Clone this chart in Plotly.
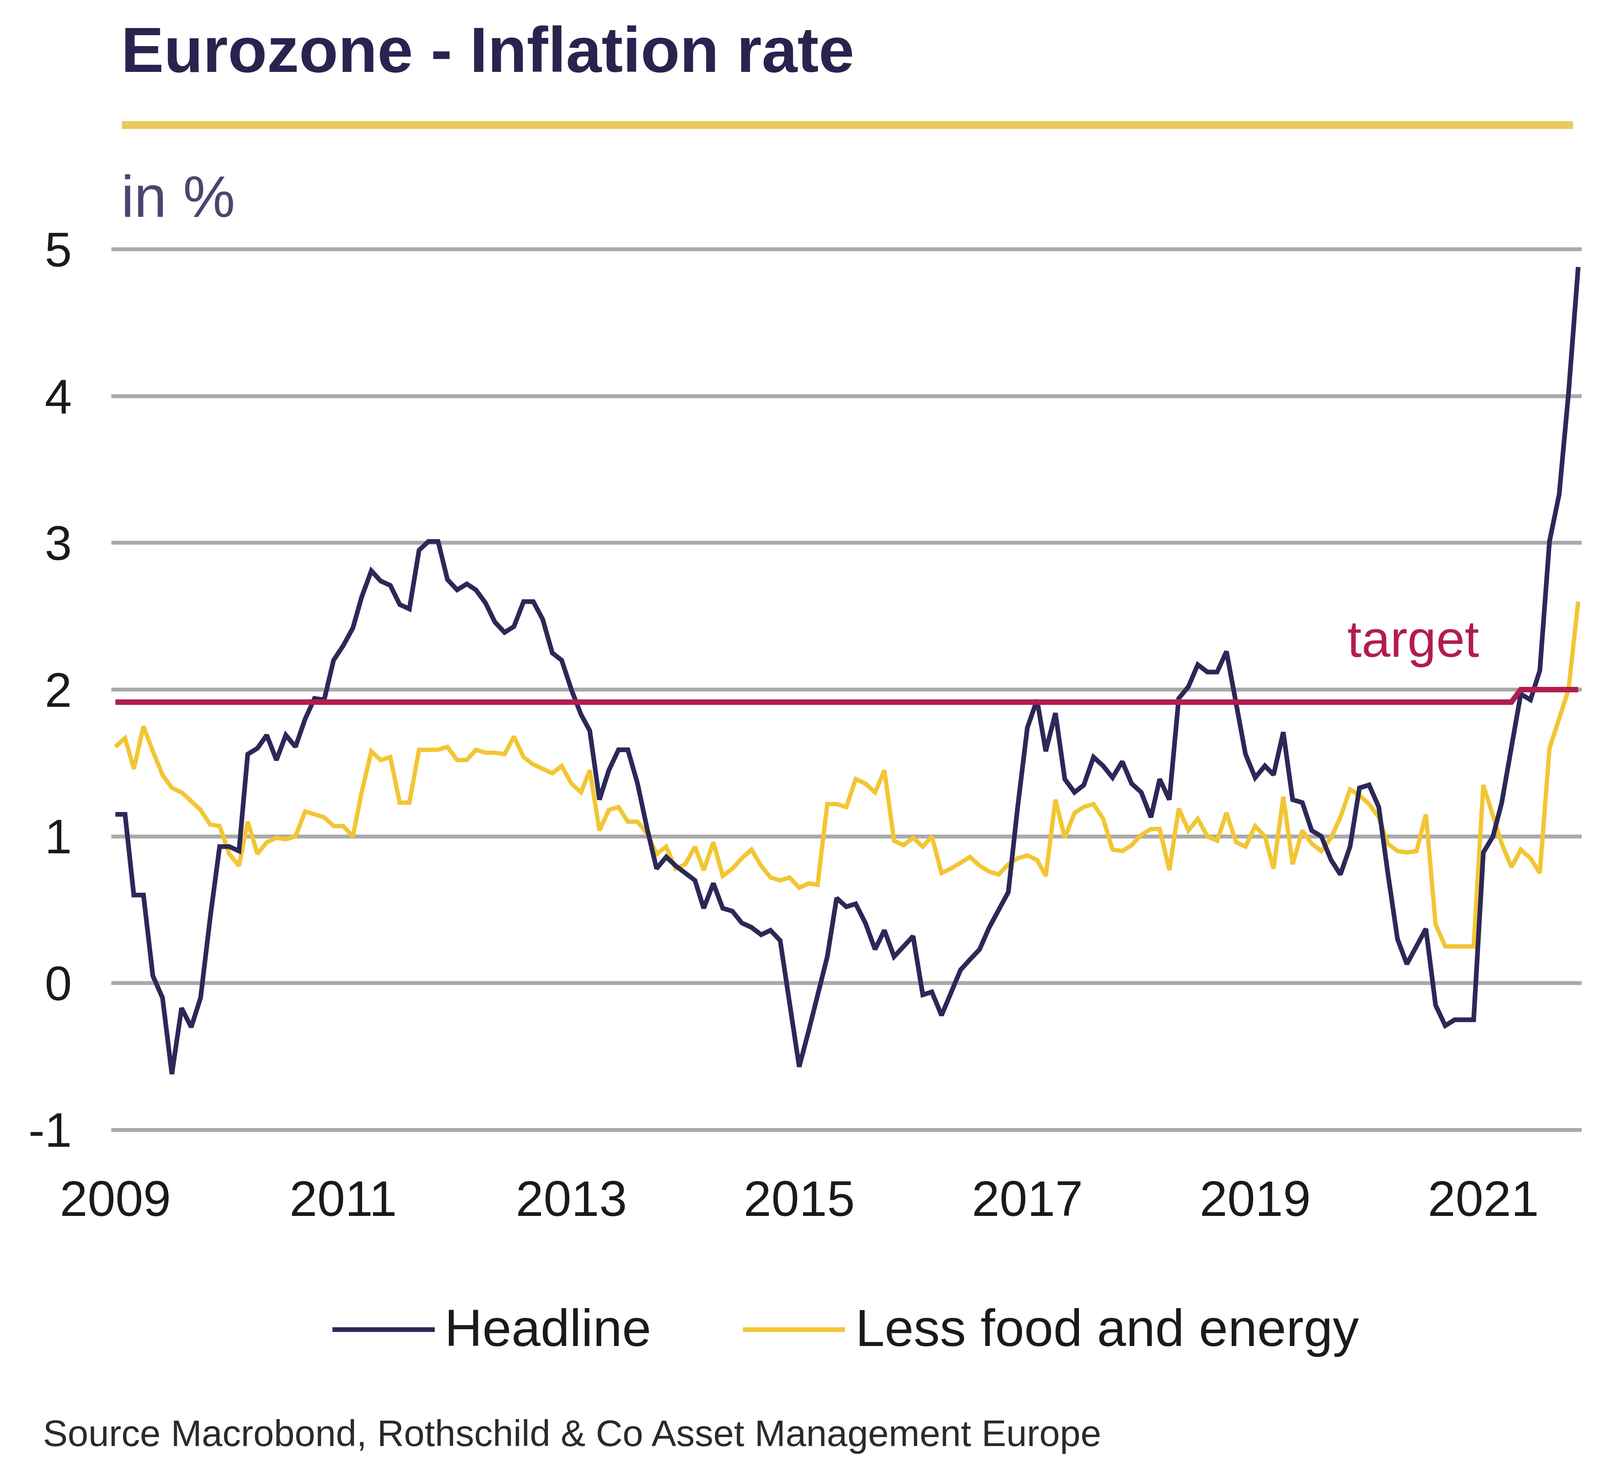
import plotly.graph_objects as go
import pandas as pd

# ---------------- data ----------------
months = pd.date_range("2009-01-01", "2021-11-01", freq="MS")

headline_2009 = [1.15, 1.15, 0.60, 0.60, 0.05, -0.10, -0.62, -0.17, -0.30, -0.10, 0.45, 0.93]
headline_2010 = [0.93, 0.90, 1.56, 1.60, 1.69, 1.52, 1.69, 1.61, 1.80, 1.94, 1.93, 2.20]
headline_2011 = [2.30, 2.42, 2.63, 2.81, 2.74, 2.71, 2.58, 2.55, 2.95, 3.01, 3.01, 2.75]
headline_2012 = [2.68, 2.72, 2.68, 2.59, 2.46, 2.39, 2.43, 2.60, 2.60, 2.48, 2.25, 2.20]
headline_2013 = [2.00, 1.83, 1.72, 1.25, 1.45, 1.59, 1.59, 1.36, 1.05, 0.78, 0.86, 0.80]
headline_2014 = [0.75, 0.70, 0.51, 0.68, 0.51, 0.49, 0.41, 0.38, 0.33, 0.36, 0.29, -0.12]
headline_2015 = [-0.57, -0.32, -0.07, 0.18, 0.58, 0.52, 0.54, 0.41, 0.23, 0.36, 0.18, 0.25]
headline_2016 = [0.32, -0.08, -0.06, -0.22, -0.07, 0.09, 0.16, 0.23, 0.38, 0.50, 0.62, 1.20]
headline_2017 = [1.74, 1.93, 1.58, 1.84, 1.39, 1.30, 1.35, 1.54, 1.48, 1.40, 1.51, 1.36]
headline_2018 = [1.30, 1.13, 1.39, 1.25, 1.94, 2.02, 2.17, 2.12, 2.12, 2.26, 1.90, 1.56]
headline_2019 = [1.40, 1.48, 1.42, 1.71, 1.25, 1.23, 1.04, 1.00, 0.84, 0.74, 0.93, 1.33]
headline_2020 = [1.35, 1.20, 0.75, 0.30, 0.13, 0.25, 0.37, -0.15, -0.29, -0.25, -0.25, -0.25]
headline_2021 = [0.89, 1.00, 1.23, 1.61, 1.97, 1.93, 2.13, 3.01, 3.33, 4.02, 4.88]

core_2009 = [1.61, 1.67, 1.46, 1.75, 1.58, 1.42, 1.33, 1.30, 1.24, 1.18, 1.08, 1.07]
core_2010 = [0.88, 0.80, 1.10, 0.88, 0.96, 0.99, 0.98, 1.00, 1.17, 1.15, 1.13, 1.07]
core_2011 = [1.07, 1.00, 1.30, 1.58, 1.52, 1.54, 1.23, 1.23, 1.59, 1.59, 1.59, 1.61]
core_2012 = [1.52, 1.52, 1.59, 1.57, 1.57, 1.56, 1.68, 1.54, 1.49, 1.46, 1.43, 1.48]
core_2013 = [1.36, 1.30, 1.45, 1.04, 1.18, 1.20, 1.10, 1.10, 1.02, 0.88, 0.93, 0.78]
core_2014 = [0.81, 0.93, 0.77, 0.96, 0.73, 0.78, 0.85, 0.91, 0.80, 0.72, 0.70, 0.72]
core_2015 = [0.65, 0.68, 0.67, 1.22, 1.22, 1.20, 1.39, 1.36, 1.30, 1.45, 0.97, 0.94]
core_2016 = [0.99, 0.93, 1.00, 0.75, 0.78, 0.82, 0.86, 0.80, 0.76, 0.74, 0.81, 0.85]
core_2017 = [0.87, 0.84, 0.73, 1.25, 0.99, 1.16, 1.20, 1.22, 1.12, 0.91, 0.90, 0.94]
core_2018 = [1.01, 1.05, 1.05, 0.77, 1.19, 1.04, 1.12, 1.00, 0.97, 1.16, 0.96, 0.93]
core_2019 = [1.07, 1.00, 0.78, 1.27, 0.81, 1.04, 0.95, 0.90, 0.99, 1.13, 1.32, 1.28]
core_2020 = [1.22, 1.13, 0.95, 0.90, 0.89, 0.90, 1.15, 0.40, 0.25, 0.25, 0.25, 0.25]
core_2021 = [1.35, 1.15, 0.95, 0.79, 0.91, 0.85, 0.75, 1.60, 1.80, 2.00, 2.60]

headline = (headline_2009 + headline_2010 + headline_2011 + headline_2012 + headline_2013
            + headline_2014 + headline_2015 + headline_2016 + headline_2017 + headline_2018
            + headline_2019 + headline_2020 + headline_2021)
core = (core_2009 + core_2010 + core_2011 + core_2012 + core_2013 + core_2014 + core_2015
        + core_2016 + core_2017 + core_2018 + core_2019 + core_2020 + core_2021)

target_dates = ["2009-01-01", "2021-04-01", "2021-05-01", "2021-11-01"]
target_values = [1.915, 1.915, 2.00, 2.00]

y_ticks = [-1, 0, 1, 2, 3, 4, 5]
x_tick_years = ["2009", "2011", "2013", "2015", "2017", "2019", "2021"]

# ---------------- styling ----------------
NAVY = "#2c2858"
GOLD = "#f2c633"
GOLD_RULE = "#e8ca5e"
CRIMSON = "#b01d4e"
GRID = "#aaaaaa"
FONT = "Liberation Sans, Arial, sans-serif"

W, H = 4224, 3770
ML, MR, MT, MB = 277, 183, 619, 875
PW, PH = W - ML - MR, H - MT - MB


def px_x(px):
    return (px - ML) / PW


def px_y(py):
    return (H - MB - py) / PH


fig = go.Figure()
fig.add_trace(go.Scatter(x=months, y=core, mode="lines", name="Less food and energy",
                         line=dict(color=GOLD, width=11), showlegend=False))
fig.add_trace(go.Scatter(x=months, y=headline, mode="lines", name="Headline",
                         line=dict(color=NAVY, width=12), showlegend=False))
fig.add_trace(go.Scatter(x=target_dates, y=target_values, mode="lines", name="target",
                         line=dict(color=CRIMSON, width=14), showlegend=False))

fig.update_layout(
    width=W, height=H,
    margin=dict(l=ML, r=MR, t=MT, b=MB, pad=0),
    paper_bgcolor="white", plot_bgcolor="white",
    font=dict(family=FONT, color="#1a1a1a"),
    showlegend=False,
)
fig.update_xaxes(
    type="date", range=["2008-12-19", "2021-11-12"],
    tickvals=[y + "-01-01" for y in x_tick_years], ticktext=x_tick_years,
    showgrid=False, zeroline=False, showline=False, ticks="",
    tickfont=dict(size=128, color="#1a1a1a"), ticklabelstandoff=80,
)
fig.update_yaxes(
    range=[-1.03, 5.03], tickvals=y_ticks, ticktext=[str(v) for v in y_ticks],
    showgrid=True, gridcolor=GRID, gridwidth=10, zeroline=False, showline=False, ticks="",
    tickfont=dict(size=125, color="#1a1a1a"), ticklabelstandoff=100,
)

annotations = [
    dict(text="<b>Eurozone - Inflation rate</b>", x=px_x(300), y=px_y(120), xanchor="left",
         yanchor="middle", font=dict(size=164, color="#29234f")),
    dict(text="in %", x=px_x(300), y=px_y(495), xanchor="left", yanchor="middle",
         font=dict(size=150, color="#4b4570")),
    dict(text="target", x=px_x(3610), y=px_y(1627), xanchor="center", yanchor="middle",
         font=dict(size=132, color=CRIMSON)),
    dict(text="Headline", x=px_x(1128), y=px_y(3390), xanchor="left", yanchor="middle",
         font=dict(size=134, color="#1a1a1a")),
    dict(text="Less food and energy", x=px_x(2180), y=px_y(3390), xanchor="left", yanchor="middle",
         font=dict(size=134, color="#1a1a1a")),
    dict(text="Source Macrobond, Rothschild &amp; Co Asset Management Europe", x=px_x(100),
         y=px_y(3660), xanchor="left", yanchor="middle", font=dict(size=95, color="#2a2a2a")),
]
for a in annotations:
    a.update(xref="paper", yref="paper", showarrow=False)
fig.update_layout(annotations=annotations)

shapes = [
    dict(type="line", x0=px_x(304), x1=px_x(4019), y0=px_y(312), y1=px_y(312),
         line=dict(color=GOLD_RULE, width=20)),
    dict(type="line", x0=px_x(843), x1=px_x(1105), y0=px_y(3395), y1=px_y(3395),
         line=dict(color=NAVY, width=12)),
    dict(type="line", x0=px_x(1894), x1=px_x(2155), y0=px_y(3395), y1=px_y(3395),
         line=dict(color=GOLD, width=12)),
]
for s in shapes:
    s.update(xref="paper", yref="paper")
fig.update_layout(shapes=shapes)

fig.write_html("out.html")
